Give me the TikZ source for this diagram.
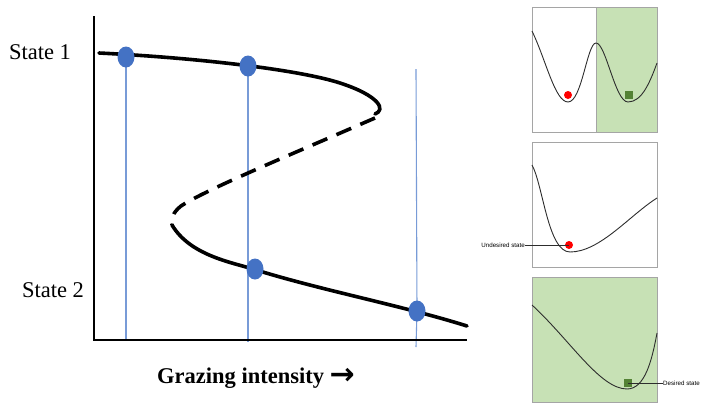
\documentclass[tikz,border=0pt]{standalone}
\usepackage{fontspec}
\setmainfont{Liberation Serif}
\newfontfamily\lsans{Liberation Sans}
\newfontfamily\djv{DejaVu Sans}
\usetikzlibrary{shapes.geometric,backgrounds}
\definecolor{dotblue}{RGB}{68,114,196}
\definecolor{lineblue}{RGB}{120,155,215}
\definecolor{pgreen}{RGB}{199,225,181}
\definecolor{dgreen}{RGB}{84,130,53}
\definecolor{frame}{RGB}{165,165,165}
\definecolor{curv}{RGB}{45,45,45}
\tikzset{
  bdot/.style={ellipse, fill=dotblue, minimum width=17pt, minimum height=21pt, inner sep=0pt},
  vline/.style={draw=lineblue, line width=1.1pt},
  branch/.style={line width=3.6pt, line cap=round},
  axis/.style={line width=1.8pt},
  lbl/.style={font=\fontsize{22.5}{25}\selectfont, inner sep=0pt},
  panel/.style={draw=frame, line width=0.8pt},
  pcurve/.style={draw=curv, line width=0.9pt},
  rdot/.style={circle, fill=red, minimum size=8pt, inner sep=0pt},
  gsq/.style={rectangle, fill=dgreen, minimum size=8pt, inner sep=0pt},
  small/.style={font=\lsans\fontsize{6.2}{7}\selectfont, inner sep=0pt},
  pointer/.style={draw=curv, line width=0.4pt}
}
\begin{document}
\begin{tikzpicture}[x=1pt,y=-1pt]
\useasboundingbox (0,0) rectangle (720,405);
% axes
\coordinate (ytop) at (94,16);
\coordinate (orig) at (94,340);
\coordinate (xend) at (467,340);
\draw[axis] (ytop) -- (orig) -- (xend);
% labels
\node[lbl] (s1) at (40,52) {State 1};
\node[lbl] (s2) at (53,290) {State 2};
\node[lbl, font=\bfseries\fontsize{22.5}{25}\selectfont] (xl) at (256,378) {Grazing intensity {\djv\bfseries\fontsize{30}{30}\selectfont\raisebox{-1.5pt}{→}}};
% S-curve
\draw[branch] (99,53) .. controls (200,58) and (300,70) .. (340,83)
  .. controls (380,96) and (386,110) .. (375,114);
\draw[branch, dash pattern=on 16pt off 10pt, line cap=butt] (375,118) .. controls (290,155) and (205,190) .. (181,206)
  .. controls (172,213) and (171,220) .. (172,225);
\draw[branch] (172,225) .. controls (190,255) and (230,262) .. (253,269)
  .. controls (320,290) and (400,305) .. (467,326);
% dots
\node[bdot] (d1) at (126,57) {};
\node[bdot] (d2) at (248,66) {};
\node[bdot] (d3) at (255,269) {};
\node[bdot] (d4) at (417,311) {};
\coordinate (b1) at (126,340);
\coordinate (b2) at (248,342);
\coordinate (t4) at (416,69);
\coordinate (b4) at (416,347);
\begin{scope}[on background layer]
\draw[vline] (d1.center) -- (b1);
\draw[vline] (d2.center) -- (b2);
\draw[vline] (t4) -- (d4.center) -- (b4);
\end{scope}
% panel 1
\fill[pgreen] (596,7) rectangle (657,132);
\draw[panel] (532,7) rectangle (657,132);
\draw[frame, line width=0.8pt] (596,7) -- (596,132);
\draw[pcurve] (532,31) .. controls (546,60) and (555,102) .. (568,102)
  .. controls (582,102) and (587,43) .. (596,43)
  .. controls (606,43) and (615,102) .. (628,102)
  .. controls (642,102) and (650,82) .. (657,63);
\node[rdot] (r1) at (568,95) {};
\node[gsq] (g1) at (629,95) {};
% panel 2
\draw[panel] (532,142) rectangle (657,267);
\draw[pcurve] (532,165) .. controls (543,185) and (548,252) .. (570,252)
  .. controls (600,252) and (630,215) .. (657,198);
\node[rdot] (r2) at (569,245) {};
\node[small, anchor=east] (u) at (525,245) {Undesired state};
\draw[pointer] (u.east) -- (r2.center);
% panel 3
\fill[pgreen] (532,277) rectangle (657,402);
\draw[panel] (532,277) rectangle (657,402);
\draw[pcurve] (532,305) .. controls (570,340) and (600,389) .. (627,389)
  .. controls (645,389) and (652,360) .. (657,333);
\node[gsq] (g3) at (628,383) {};
\node[small, anchor=west] (ds) at (663,383) {Desired state};
\draw[pointer] (g3.center) -- (ds.west);
\end{tikzpicture}
\end{document}
